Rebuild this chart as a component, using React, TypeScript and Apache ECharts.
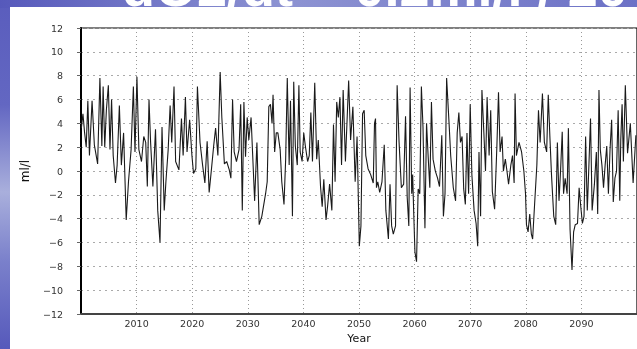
import React, { useEffect, useRef } from "react";
import * as echarts from "echarts";

const titleText = "dO2/dt ~ 0.2ml/l / 20yr";
const xAxisName = "Year";
const yAxisName = "ml/l";

const yearsA = [
  2000.06, 2000.35, 2000.65, 2000.94, 2001.23, 2001.52, 2001.99, 2002.4, 2002.99, 2003.4,
  2003.75, 2003.98, 2004.27, 2004.56, 2004.92, 2005.21, 2005.5, 2005.79, 2006.2, 2006.5,
  2006.9, 2007.26, 2007.66, 2008.13, 2008.54, 2009.01, 2009.42, 2009.71, 2010.06, 2010.41,
  2010.88, 2011.29, 2011.64, 2011.93, 2012.23, 2012.52, 2012.93, 2013.4, 2013.8, 2014.21,
  2014.57, 2014.97, 2015.27, 2015.68, 2016.03, 2016.32, 2016.73, 2017.02, 2017.61, 2018.07,
  2018.37, 2018.78, 2019.07, 2019.54, 2019.95, 2020.24, 2020.65, 2020.94, 2021.41, 2021.87,
  2022.28, 2022.69, 2023.05, 2023.45, 2023.86, 2024.21, 2024.62, 2025.03, 2025.33, 2025.79,
  2026.2, 2026.67, 2026.96, 2027.26, 2027.55, 2027.96, 2028.42, 2028.72, 2029.01, 2029.3,
  2029.59, 2029.89, 2030.18, 2030.59, 2030.88, 2031.23, 2031.64, 2032.05, 2032.52,
];
const valuesA = [
  3.6, 4.8, 3.2, 2, 5.9, 1.3, 5.9, 2.2, 0.6, 7.8,
  2.1, 7.1, 2, 5.1, 7.2, 1.8, 6, 1.3, -1, 0.5,
  5.5, 0.5, 3.2, -4.1, -0.9, 1.8, 7.1, 1.6, 7.9, 1.8,
  0.8, 2.9, 2.4, -1.3, 6, 2.4, -1.3, 3.5, -3.3, -6,
  3.7, -3.3, -0.9, 1.8, 5.5, 2.4, 7.1, 0.8, 0.1, 4.4,
  1.3, 6.2, 1.6, 4.3, 1.3, -0.2, 0.2, 7.1, 2.4, 0.5,
  -1, 2.5, -1.8, 0.1, 2.1, 3.6, 1.3, 8.3, 4.5, 0.6,
  0.8, 0.1, -0.6, 6, 1.6, 0.8, 1.8, 5.6, -3.3, 5.8,
  1.2, 4.5, 2.6, 4.5, 1.3, -2.5, 2.4, -4.5, -3.8,
];

const yearsB = [
  2033.2, 2033.49, 2033.78, 2034.07, 2034.36, 2034.54, 2034.83, 2035.12, 2035.41, 2035.82,
  2036.11, 2036.51, 2036.81, 2037.1, 2037.44, 2037.68, 2038.03, 2038.26, 2038.55, 2038.9,
  2039.19, 2039.42, 2039.77, 2040.06, 2040.35, 2040.76, 2041.05, 2041.34, 2041.63, 2042.04,
  2042.39, 2042.68, 2043.08, 2043.38, 2043.67, 2044.07, 2044.36, 2044.71, 2045.12, 2045.41,
  2045.7, 2045.99, 2046.28, 2046.57, 2046.86, 2047.15, 2047.56, 2048.14, 2048.49, 2048.9,
  2049.31, 2049.65, 2050.06, 2050.35, 2050.64, 2050.93, 2051.22, 2051.63, 2052.1, 2052.56,
  2052.79, 2052.97, 2053.14, 2053.38, 2053.72, 2054.13, 2054.54, 2054.83, 2055.29, 2055.58,
  2055.87, 2056.17, 2056.57, 2056.86, 2057.21, 2057.62, 2058.03, 2058.37, 2058.67, 2058.96,
  2059.19, 2059.48, 2059.65, 2059.83, 2060.06, 2060.35, 2060.64, 2060.93, 2061.22, 2061.51,
  2061.86, 2062.15, 2062.44, 2062.74, 2063.03, 2063.32, 2063.73, 2064.13, 2064.48, 2064.89,
  2065.18, 2065.47, 2065.76,
];
const valuesB = [
  -1.9, -0.9, 5.4, 5.6, 4, 6.4, 1.6, 3.2, 3.2, 1.8,
  -0.9, -2.8, 1, 7.8, 0.5, 5.9, -3.8, 7.5, 2.1, 0.5,
  7.2, 1.6, 0.8, 3.2, 2.1, 0.8, 1.3, 4.9, 0.8, 7.4,
  1, 2.6, -1.3, -3, -0.7, -4.1, -2.9, -1.1, -3.3, 3.9,
  -0.9, 5.8, 4.5, 6.2, 0.5, 6.8, 0.8, 7.6, 2.6, 5.4,
  -0.9, 2.9, -6.3, -4.6, 4.8, 5.1, 1.3, 0.2, -0.3, -1,
  4, 4.4, -1.4, -0.9, -1.8, -0.9, 2.2, -3.3, -5.7, -1.1,
  -4.6, -5.3, -4.6, 7.2, 2.4, -1.4, -1.1, 4.6, -2.2, -4.6,
  7, -1.9, -0.3, -3.3, -6.8, -7.6, -1.5, -1.9, 7.1, 3.7,
  -4.8, 4, 1.2, -1.4, 5.8, 1, 0, -0.6, -1.3, 3,
  -3.8, -1.9, 7.8,
];

const yearsC = [
  2066.2, 2066.49, 2066.96, 2067.37, 2067.66, 2067.96, 2068.25, 2068.54, 2068.83, 2069.13,
  2069.42, 2069.71, 2070.0, 2070.3, 2070.7, 2071.06, 2071.35, 2071.58, 2071.87, 2072.11,
  2072.46, 2072.75, 2073.04, 2073.4, 2073.69, 2073.98, 2074.39, 2074.8, 2075.09, 2075.38,
  2075.73, 2075.97, 2076.32, 2076.61, 2076.9, 2077.31, 2077.61, 2077.9, 2078.07, 2078.31,
  2078.78, 2079.24, 2079.65, 2079.95, 2080.12, 2080.41, 2080.71, 2081.0, 2081.23, 2081.58,
  2081.99, 2082.28, 2082.58, 2082.99, 2083.34, 2083.75, 2084.04, 2084.33, 2084.62, 2085.03,
  2085.38, 2085.68, 2085.97, 2086.26, 2086.55, 2086.79, 2087.08, 2087.43, 2087.66, 2087.96,
  2088.31, 2088.6, 2088.89, 2089.3, 2089.59, 2089.89, 2090.18, 2090.47, 2090.76, 2091.06,
  2091.35, 2091.64, 2091.93, 2092.34, 2092.69, 2092.93, 2093.16, 2093.4, 2093.69, 2093.98,
  2094.27, 2094.56, 2094.86, 2095.15, 2095.44, 2095.73, 2096.03, 2096.32, 2096.61, 2096.9,
  2097.08, 2097.32, 2097.55, 2097.9, 2098.3, 2098.8, 2099.3, 2099.8,
];
const valuesC = [
  4, 1.3, -1.4, -2.5, 3.2, 4.9, 2.4, 2.9, -1.5, -2.8,
  3.2, -1.9, 5.6, -0.3, -3.3, -4.4, -6.3, 1.6, -3.8, 6.8,
  3.2, 0, 6.2, 1.3, 5.1, -1.7, -3.2, 2.1, 6.6, 1.6,
  2.9, 0, 1, 0, -1.1, 0.5, 1.3, -1, 6.5, 1.3,
  2.4, 1.6, 0, -1.9, -4.5, -5.1, -3.6, -5.3, -5.7, -2.8,
  0.5, 5.1, 2.4, 6.5, 2.4, 1.6, 6.4, 2.9, -0.3, -3.8,
  -4.5, 2.4, -2.5, 0.1, 3.3, -1.9, -0.6, -1.9, 3.6, -4.9,
  -8.3, -5.1, -4.5, -4.4, -1.4, -3, -4.4, -3.8, 2.9, -3.3,
  0.5, 4.4, -3.3, -1.1, 1.6, -3.6, 6.8, 1.8, 0.5, -1.4,
  0.5, 2.1, -1.9, 1.8, 4.3, -2.6, -0.6, 0, 5.1, -2.5,
  2.6, 5.6, 0.8, 7.2, 1.5, 4, -1, 3,
];

const W = 637;
const H = 349;
const FONT = "'DejaVu Sans', 'Liberation Sans', sans-serif";

export default function App() {
  const ref = useRef<HTMLDivElement>(null);

  useEffect(() => {
    if (!ref.current) return;
    const chart = echarts.init(ref.current, undefined, { renderer: "svg" });
    const years = [...yearsA, ...yearsB, ...yearsC];
    const values = [...valuesA, ...valuesB, ...valuesC];
    const data = years.map((y, i) => [y, values[i]]);

    const option: any = {
      animation: false,
      backgroundColor: "transparent",
      graphic: [
        {
          type: "rect",
          z: -30,
          silent: true,
          shape: { x: 0, y: 0, width: W, height: H },
          style: {
            fill: new echarts.graphic.LinearGradient(0, 0, 0, 1, [
              { offset: 0, color: "#5a5dbd" },
              { offset: 0.3, color: "#6367c2" },
              { offset: 0.55, color: "#a9afdc" },
              { offset: 0.75, color: "#7a80cb" },
              { offset: 1, color: "#5659bb" },
            ]),
          },
        },
        {
          type: "rect",
          z: -29,
          silent: true,
          shape: { x: 0, y: 0, width: W, height: 8 },
          style: {
            fill: new echarts.graphic.LinearGradient(0, 0, 1, 0, [
              { offset: 0, color: "#5659bb" },
              { offset: 0.45, color: "#8d93d2" },
              { offset: 1, color: "#6c71c6" },
            ]),
          },
        },
        {
          type: "text",
          z: -28,
          silent: true,
          x: 122,
          y: 14,
          style: {
            text: titleText,
            fill: "#ffffff",
            font: `bold 54px 'Liberation Sans', Arial, sans-serif`,
            verticalAlign: "bottom",
            align: "left",
          },
        },
        {
          type: "rect",
          z: -27,
          silent: true,
          shape: { x: 10, y: 7, width: W - 10, height: H - 7 },
          style: { fill: "#ffffff" },
        },
      ],
      grid: {
        left: 81,
        right: -14,
        top: 28,
        bottom: 26,
        show: true,
        borderColor: "#000",
        borderWidth: 1.2,
        backgroundColor: "transparent",
      },
      xAxis: {
        type: "value",
        min: 2000,
        max: 2100,
        interval: 10,
        name: xAxisName,
        nameLocation: "middle",
        nameGap: 15,
        nameTextStyle: { color: "#111", fontSize: 11, fontFamily: FONT },
        axisLine: { show: true, onZero: false, lineStyle: { color: "#444", width: 2 } },
        axisTick: { show: false },
        axisLabel: {
          showMinLabel: false,
          showMaxLabel: false,
          color: "#333",
          fontSize: 9.5,
          fontFamily: FONT,
          margin: 4,
          formatter: (v: number) => String(Math.round(v)),
        },
        splitLine: { show: true, lineStyle: { color: "#999", type: [1, 3], width: 1 } },
      },
      yAxis: {
        type: "value",
        min: -12,
        max: 12,
        interval: 2,
        name: yAxisName,
        nameLocation: "middle",
        nameGap: 50,
        nameRotate: 90,
        nameTextStyle: { color: "#111", fontSize: 12, fontFamily: FONT },
        axisLine: { show: true, lineStyle: { color: "#000", width: 2 } },
        axisTick: { show: true, length: 4, lineStyle: { color: "#666" } },
        axisLabel: {
          color: "#333",
          fontSize: 9.5,
          fontFamily: FONT,
          margin: 18,
          formatter: (v: number) => (v < 0 ? "\u2212" + Math.abs(v) : String(v)),
        },
        splitLine: { show: true, lineStyle: { color: "#aaa", type: [2, 4], width: 1 } },
      },
      series: [
        {
          type: "line",
          data,
          symbol: "none",
          showSymbol: false,
          lineStyle: { color: "#1a1a1a", width: 1.1 },
          z: 5,
        },
      ],
    };

    chart.setOption(option);
    return () => chart.dispose();
  }, []);

  return (
    <div style={{ position: "fixed", left: 0, top: 0, width: W, height: H, overflow: "hidden" }}>
      <div ref={ref} style={{ width: W, height: H }} />
    </div>
  );
}
